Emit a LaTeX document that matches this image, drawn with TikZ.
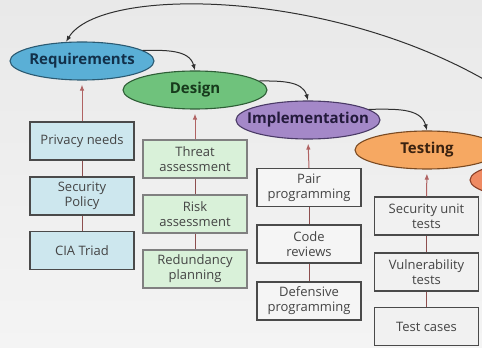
\documentclass[tikz,border=0pt]{standalone}
\usepackage{fontspec}
\setmainfont{Open Sans}
\usetikzlibrary{arrows.meta,shapes.geometric}
\definecolor{bgtop}{HTML}{E9E9E9}
\definecolor{bgbot}{HTML}{F4F4F4}
\definecolor{reqfill}{HTML}{5AAFD6}
\definecolor{reqdraw}{HTML}{2B5A72}
\definecolor{reqtext}{HTML}{12304A}
\definecolor{desfill}{HTML}{6FC27C}
\definecolor{desdraw}{HTML}{2E5E36}
\definecolor{destext}{HTML}{173A1C}
\definecolor{impfill}{HTML}{A488C8}
\definecolor{impdraw}{HTML}{4A3A66}
\definecolor{imptext}{HTML}{241A3C}
\definecolor{tstfill}{HTML}{F6A862}
\definecolor{tstdraw}{HTML}{7A4A22}
\definecolor{tsttext}{HTML}{3A2210}
\definecolor{nxtfill}{HTML}{EF8A62}
\definecolor{nxtdraw}{HTML}{8A4028}
\definecolor{reqbox}{HTML}{CDE7EE}
\definecolor{desbox}{HTML}{D9F1D9}
\definecolor{impbox}{HTML}{F5F5F5}
\definecolor{tstbox}{HTML}{F1F1F1}
\definecolor{boxdraw}{HTML}{4A4A4A}
\definecolor{boxtext}{HTML}{444444}
\definecolor{redline}{HTML}{B06262}
\definecolor{flowline}{HTML}{303030}
\begin{document}
\begin{tikzpicture}[x=1pt,y=1pt,
  phase/.style 2 args={ellipse, draw=#2, line width=1.1pt, fill=#1,
    minimum width=144pt, minimum height=38pt, inner sep=0pt},
  ptext/.style={font=\fontsize{15}{17}\selectfont\bfseries, text=#1},
  stepbox/.style 2 args={rectangle, draw=#2, fill=#1, line width=1.2pt,
    minimum width=104pt, minimum height=38pt, inner sep=1pt, align=center,
    font=\fontsize{13}{15}\selectfont, text=boxtext},
  upline/.style={draw=redline, line width=1pt, -{Latex[length=6pt,width=4.5pt]}, shorten >=4pt},
  joinline/.style={draw=redline!80!black, line width=1pt},
  flow/.style={draw=flowline, line width=1pt, -{Latex[length=6pt,width=4.5pt]}}
]
\useasboundingbox (0,0) rectangle (482,348);
\clip (0,0) rectangle (482,348);
\fill[top color=bgtop, bottom color=bgbot] (0,0) rectangle (482,348);

% phases
\node[phase={reqfill}{reqdraw}, label={[ptext=reqtext]center:Requirements}] (req) at (82,287) {};
\node[phase={desfill}{desdraw}, label={[ptext=destext]center:Design}] (des) at (195,258) {};
\node[phase={impfill}{impdraw}, label={[ptext=imptext]center:Implementation}] (imp) at (308,228) {};
\node[phase={nxtfill}{nxtdraw}] (nxt) at (542,168) {};
\node[phase={tstfill}{tstdraw}, label={[ptext=tsttext]center:Testing}] (tst) at (427,198) {};

% boxes
\node[stepbox={reqbox}{boxdraw}] (r1) at (82,207) {Privacy needs};
\node[stepbox={reqbox}{boxdraw}] (r2) at (82,152) {Security\\Policy};
\node[stepbox={reqbox}{boxdraw}] (r3) at (82,97.5) {CIA Triad};

\node[stepbox={desbox}{boxdraw!70}] (d1) at (195,189) {Threat\\assessment};
\node[stepbox={desbox}{boxdraw!70}] (d2) at (195,134) {Risk\\assessment};
\node[stepbox={desbox}{boxdraw!70}] (d3) at (195,79) {Redundancy\\planning};

\node[stepbox={impbox}{boxdraw}] (i1) at (309,160.5) {Pair\\programming};
\node[stepbox={impbox}{boxdraw}] (i2) at (309,104) {Code\\reviews};
\node[stepbox={impbox}{boxdraw}] (i3) at (309,47) {Defensive\\programming};

\node[stepbox={tstbox}{boxdraw}] (t1) at (426.5,132) {Security unit\\tests};
\node[stepbox={tstbox}{boxdraw}] (t2) at (426.5,76) {Vulnerability\\tests};
\node[stepbox={tstbox}{boxdraw}] (t3) at (426.5,21.5) {Test cases};

% vertical connectors
\draw[upline] (r1.north) -- (req.south);
\draw[joinline] (r1.south) -- (r2.north);
\draw[joinline] (r2.south) -- (r3.north);
\draw[upline] (d1.north) -- (des.south);
\draw[joinline] (d1.south) -- (d2.north);
\draw[joinline] (d2.south) -- (d3.north);
\draw[upline] (i1.north) -- (imp.south);
\draw[joinline] (i1.south) -- (i2.north);
\draw[joinline] (i2.south) -- (i3.north);
\draw[upline] (t1.north) -- (tst.south);
\draw[joinline] (t1.south) -- (t2.north);
\draw[joinline] (t2.south) -- (t3.north);

% flow arrows
\draw[flow] (req.10) to[out=0,in=105] (des.north);
\draw[flow] (des.8) to[out=0,in=105] (imp.north);
\draw[flow] (imp.10) to[out=0,in=105] (tst.north);

% feedback arc
\coordinate (arcstart) at (492,264);
\draw[flow] (arcstart) .. controls (330,360) and (100,362) .. (req.130);
\end{tikzpicture}
\end{document}
